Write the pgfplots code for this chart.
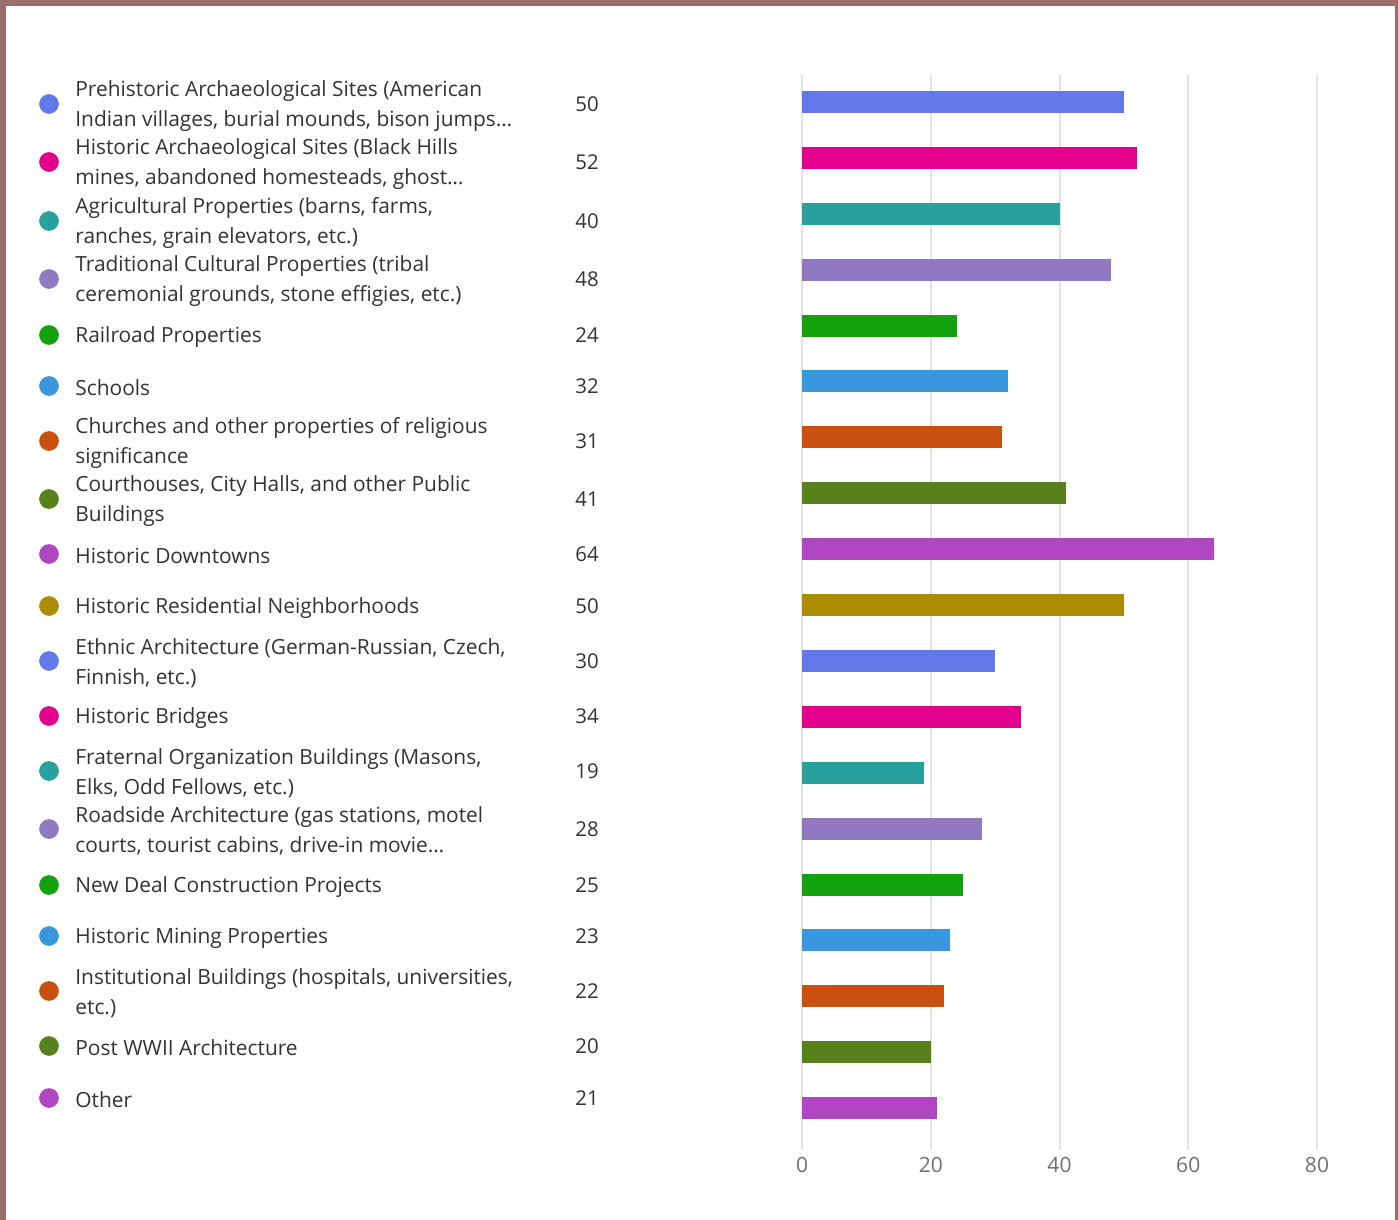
\documentclass[border=0pt]{standalone}
\usepackage{fontspec}
\setmainfont{Open Sans}
\usepackage{pgfplots}
\usepackage{pgfplotstable}
\pgfplotsset{compat=1.18}
\definecolor{frame}{HTML}{9B6E6A}
\definecolor{txt}{HTML}{333333}
\definecolor{tick}{HTML}{707070}
\definecolor{gridc}{HTML}{E3E3E3}
\definecolor{c1}{HTML}{6279E9}
\definecolor{c2}{HTML}{E3008C}
\definecolor{c3}{HTML}{27A09E}
\definecolor{c4}{HTML}{9179C2}
\definecolor{c5}{HTML}{13A10E}
\definecolor{c6}{HTML}{3A96DD}
\definecolor{c7}{HTML}{CA5010}
\definecolor{c8}{HTML}{57811B}
\definecolor{c9}{HTML}{B146C2}
\definecolor{c10}{HTML}{AE8C00}

% legend rows: pixel y of each row, value, colour class
\pgfplotstableread{
x   y     v   c
49  104   50  a
49  162   52  b
49  221   40  c
49  279   48  d
49  335   24  e
49  386   32  f
49  441   31  g
49  499   41  h
49  554   64  i
49  606   50  j
49  661   30  a
49  716   34  b
49  771   19  c
49  829   28  d
49  885   25  e
49  936   23  f
49  991   22  g
49  1046  20  h
49  1098  21  i
}\legendtable
\pgfplotstableread{
x   y     v
587 104   50
587 162   52
587 221   40
587 279   48
587 335   24
587 386   32
587 441   31
587 499   41
587 554   64
587 606   50
587 661   30
587 716   34
587 771   19
587 829   28
587 885   25
587 936   23
587 991   22
587 1046  20
587 1098  21
}\valuetable

\begin{document}
\begin{tikzpicture}
\fill[frame] (0,0) rectangle (699pt,610pt);
\fill[white] (3pt,0) rectangle (697.5pt,607pt);
% legend / label axis in pixel units
\begin{axis}[
  at={(0,0)}, anchor=south west,
  width=699pt, height=610pt, scale only axis,
  xmin=0, xmax=1398, ymin=0, ymax=1220, y dir=reverse,
  hide axis, clip=false,
  /pgf/number format/assume math mode=true,
]
\addplot[scatter, only marks, mark=*, mark size=4.7pt,
  scatter src=explicit symbolic,
  scatter/classes={
    a={mark=*, draw=c1, fill=c1},
    b={mark=*, draw=c2, fill=c2},
    c={mark=*, draw=c3, fill=c3},
    d={mark=*, draw=c4, fill=c4},
    e={mark=*, draw=c5, fill=c5},
    f={mark=*, draw=c6, fill=c6},
    g={mark=*, draw=c7, fill=c7},
    h={mark=*, draw=c8, fill=c8},
    i={mark=*, draw=c9, fill=c9},
    j={mark=*, draw=c10, fill=c10}}]
  table[x=x, y=y, meta=c] {\legendtable};
\addplot[only marks, mark=none, point meta=explicit,
  nodes near coords,
  nodes near coords style={anchor=center, inner sep=0pt, text=txt, font=\fontsize{10.2}{12}\selectfont}]
  table[x=x, y=y, meta=v] {\valuetable};
\begin{scope}[every node/.style={anchor=west, align=left, inner sep=0pt, text=txt, font=\fontsize{10.45}{15}\selectfont}]
\node at (axis cs:75,106) {Prehistoric Archaeological Sites (American\\Indian villages, burial mounds, bison jumps…};
\node at (axis cs:75,164) {Historic Archaeological Sites (Black Hills\\mines, abandoned homesteads, ghost…};
\node at (axis cs:75,223) {Agricultural Properties (barns, farms,\\ranches, grain elevators, etc.)};
\node at (axis cs:75,281) {Traditional Cultural Properties (tribal\\ceremonial grounds, stone effigies, etc.)};
\node at (axis cs:75,337) {Railroad Properties};
\node at (axis cs:75,388) {Schools};
\node at (axis cs:75,443) {Churches and other properties of religious\\significance};
\node at (axis cs:75,501) {Courthouses, City Halls, and other Public\\Buildings};
\node at (axis cs:75,556) {Historic Downtowns};
\node at (axis cs:75,608) {Historic Residential Neighborhoods};
\node at (axis cs:75,663) {Ethnic Architecture (German-Russian, Czech,\\Finnish, etc.)};
\node at (axis cs:75,718) {Historic Bridges};
\node at (axis cs:75,773) {Fraternal Organization Buildings (Masons,\\Elks, Odd Fellows, etc.)};
\node at (axis cs:75,831) {Roadside Architecture (gas stations, motel\\courts, tourist cabins, drive-in movie…};
\node at (axis cs:75,887) {New Deal Construction Projects};
\node at (axis cs:75,938) {Historic Mining Properties};
\node at (axis cs:75,993) {Institutional Buildings (hospitals, universities,\\etc.)};
\node at (axis cs:75,1048) {Post WWII Architecture};
\node at (axis cs:75,1100) {Other};
\end{scope}
\end{axis}
% bar axis
\begin{axis}[
  at={(401pt,35pt)}, anchor=south west,
  width=257.5pt, height=537.5pt, scale only axis,
  xmin=0, xmax=80, ymin=-0.483, ymax=18.75, y dir=reverse,
  xbar, bar width=11pt, bar shift=0pt,
  axis line style={draw=none},
  major tick length=0pt,
  ytick=\empty,
  xtick={0,20,40,60,80},
  xmajorgrids, grid style={gridc, line width=1pt},
  xticklabel style={text=tick, font=\fontsize{10.5}{12}\selectfont},
  /pgf/number format/assume math mode=true,
  clip=false,
]
\addplot[fill=c1, draw=none] coordinates {(50,0)};
\addplot[fill=c2, draw=none] coordinates {(52,1)};
\addplot[fill=c3, draw=none] coordinates {(40,2)};
\addplot[fill=c4, draw=none] coordinates {(48,3)};
\addplot[fill=c5, draw=none] coordinates {(24,4)};
\addplot[fill=c6, draw=none] coordinates {(32,5)};
\addplot[fill=c7, draw=none] coordinates {(31,6)};
\addplot[fill=c8, draw=none] coordinates {(41,7)};
\addplot[fill=c9, draw=none] coordinates {(64,8)};
\addplot[fill=c10, draw=none] coordinates {(50,9)};
\addplot[fill=c1, draw=none] coordinates {(30,10)};
\addplot[fill=c2, draw=none] coordinates {(34,11)};
\addplot[fill=c3, draw=none] coordinates {(19,12)};
\addplot[fill=c4, draw=none] coordinates {(28,13)};
\addplot[fill=c5, draw=none] coordinates {(25,14)};
\addplot[fill=c6, draw=none] coordinates {(23,15)};
\addplot[fill=c7, draw=none] coordinates {(22,16)};
\addplot[fill=c8, draw=none] coordinates {(20,17)};
\addplot[fill=c9, draw=none] coordinates {(21,18)};
\end{axis}
\end{tikzpicture}
\end{document}
